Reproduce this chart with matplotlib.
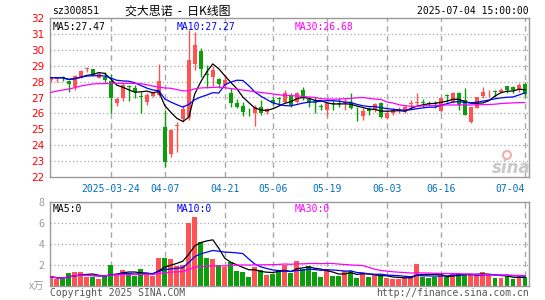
import numpy as np
import pandas as pd
import matplotlib
matplotlib.use("Agg")
import matplotlib.pyplot as plt
from matplotlib.patches import Ellipse

# daily bars 2025-03-10 .. 2025-07-04 (80 trading days)
opens = [28.08, 28.15, 28.25, 28.04, 27.68, 28.31, 28.82, 28.79, 28.25, 28.27,
         28.05, 26.63, 27.00, 27.70, 27.62, 27.08, 26.70, 27.11, 27.16, 25.16,
         23.42, 25.20, 25.64, 25.79, 29.10, 29.93, 28.45, 28.31, 28.14, 27.80,
         27.31, 26.68, 26.47, 26.09, 26.05, 26.43, 26.07, 26.85, 27.00, 26.74,
         27.10, 26.74, 27.48, 26.89, 26.74, 26.45, 26.22, 26.66, 26.66, 26.66,
         26.64, 26.09, 25.86, 26.26, 26.22, 26.64, 25.68, 26.01, 26.20, 26.11,
         26.62, 26.64, 26.70, 26.68, 26.68, 26.17, 27.12, 26.74, 27.27, 26.85,
         25.48, 26.32, 27.10, 27.20, 27.40, 27.37, 27.73, 27.69, 27.52, 27.83]
highs = [28.30, 28.30, 28.35, 28.10, 28.40, 28.75, 28.90, 28.80, 28.60, 28.62,
         28.45, 27.00, 27.90, 27.79, 27.79, 27.37, 27.26, 27.30, 29.09, 26.20,
         24.99, 25.47, 26.53, 31.25, 31.10, 30.10, 29.05, 28.95, 28.25, 28.40,
         27.58, 26.89, 26.74, 26.33, 26.53, 26.85, 26.36, 27.06, 27.06, 27.50,
         27.27, 27.37, 27.69, 26.95, 27.06, 26.58, 26.74, 26.85, 26.95, 26.95,
         27.27, 26.43, 26.32, 26.43, 26.68, 26.74, 26.22, 26.32, 26.43, 26.53,
         26.85, 27.27, 26.89, 26.79, 26.79, 27.00, 27.22, 27.37, 27.37, 27.58,
         26.43, 27.06, 27.69, 27.48, 27.48, 27.58, 27.73, 27.73, 27.94, 28.00]
lows = [28.00, 28.00, 28.05, 27.37, 27.47, 28.25, 28.62, 28.40, 28.20, 27.90,
        26.00, 26.46, 26.75, 26.78, 26.99, 26.00, 26.53, 27.05, 27.10, 22.64,
        23.27, 23.58, 25.47, 25.60, 28.73, 28.30, 27.58, 27.70, 27.58, 27.60,
        26.43, 26.32, 25.84, 25.84, 25.23, 25.90, 25.97, 26.53, 26.53, 26.64,
        26.43, 26.64, 26.85, 26.43, 26.01, 26.22, 25.84, 26.22, 26.43, 26.22,
        26.27, 25.52, 25.59, 25.90, 26.11, 25.70, 25.63, 25.90, 26.01, 26.05,
        26.32, 26.53, 26.43, 26.53, 26.37, 26.06, 26.74, 26.64, 26.22, 25.90,
        25.38, 26.32, 26.95, 27.06, 27.06, 27.27, 27.27, 27.27, 27.37, 27.06]
closes = [28.25, 28.25, 28.22, 27.83, 28.37, 28.69, 28.85, 28.46, 28.46, 28.12,
          26.95, 26.90, 27.80, 27.65, 27.37, 27.05, 27.16, 27.26, 28.04, 22.95,
          24.95, 25.26, 26.27, 29.36, 30.30, 28.77, 28.40, 28.73, 27.83, 28.10,
          26.68, 26.43, 26.11, 26.06, 26.43, 26.05, 26.28, 26.64, 26.90, 27.31,
          26.53, 27.27, 27.01, 26.64, 26.64, 26.43, 26.64, 26.62, 26.62, 26.70,
          26.32, 26.06, 26.15, 26.15, 26.57, 25.80, 26.03, 26.22, 26.24, 26.43,
          26.66, 26.70, 26.66, 26.58, 26.58, 26.95, 27.08, 27.27, 26.53, 25.90,
          26.43, 27.06, 27.37, 27.24, 27.36, 27.50, 27.50, 27.45, 27.79, 27.20]
# MA30 (needs history before the window)
ma30 = [27.32, 27.40, 27.47, 27.53, 27.62, 27.72, 27.79, 27.85, 27.87, 27.87,
        27.88, 27.89, 27.89, 27.89, 27.88, 27.87, 27.80, 27.72, 27.65, 27.60,
        27.58, 27.50, 27.42, 27.42, 27.55, 27.60, 27.62, 27.63, 27.65, 27.62,
        27.56, 27.52, 27.47, 27.42, 27.36, 27.32, 27.27, 27.22, 27.17, 27.13,
        27.12, 27.10, 27.07, 27.03, 27.00, 26.93, 26.90, 26.90, 26.90, 26.92,
        26.95, 26.98, 27.00, 26.95, 26.90, 26.88, 26.72, 26.65, 26.55, 26.48,
        26.45, 26.45, 26.47, 26.48, 26.50, 26.52, 26.53, 26.53, 26.53, 26.53,
        26.53, 26.54, 26.55, 26.56, 26.58, 26.62, 26.64, 26.66, 26.68, 26.68]
# volume, 10k lots
volumes = [0.89, 0.67, 0.67, 1.24, 1.37, 1.37, 0.86, 0.86, 0.67, 0.95,
           2.00, 1.14, 1.52, 1.05, 0.95, 1.62, 1.05, 0.95, 2.67, 2.67,
           2.57, 1.90, 2.00, 6.03, 6.60, 4.16, 2.67, 2.54, 2.00, 1.81,
           2.29, 1.43, 1.33, 0.86, 1.81, 1.52, 1.05, 1.17, 1.43, 2.00,
           1.24, 2.35, 1.62, 1.90, 1.33, 0.86, 1.59, 0.95, 0.95, 1.43,
           1.43, 0.76, 1.27, 0.86, 1.05, 0.95, 0.76, 0.67, 0.67, 0.86,
           0.95, 2.10, 0.86, 0.76, 0.86, 1.05, 0.86, 1.24, 1.14, 1.14,
           1.05, 1.05, 1.33, 1.05, 0.76, 0.76, 0.95, 0.67, 0.95, 0.83]

date_pos = [10, 19, 29, 37, 46, 56, 65, 79]
date_labels = ["2025-03-24", "04-07", "04-21", "05-06", "05-19", "06-03", "06-16", "07-04"]
price_ticks = list(range(22, 33))
vol_ticks = [2, 4, 6, 8]

RED = "#ff5252"
GREEN = "#0a9e0a"
GRID = "#a8a8a8"
mono = "DejaVu Sans Mono"

o = np.array(opens); h = np.array(highs); l = np.array(lows); c = np.array(closes)
v = np.array(volumes)
x = np.arange(len(c))
up = c >= o
cols = np.where(up, RED, GREEN)

cs = pd.Series(c)
ma5 = cs.rolling(5, min_periods=1).mean()
ma10 = cs.rolling(10, min_periods=1).mean()
vs = pd.Series(v)
vma5 = vs.rolling(5, min_periods=1).mean()
vma10 = vs.rolling(10, min_periods=1).mean()
vma30 = vs.rolling(30, min_periods=1).mean()

fig = plt.figure(figsize=(5.45, 3.0), dpi=100)
fig.patch.set_facecolor("white")
ax = fig.add_axes([50/545, 1-177/300, 479/545, 159/300])
axv = fig.add_axes([50/545, 1-286/300, 479/545, 84/300])

xlim = (-0.12, 79.67)

# price panel
for yv in price_ticks[1:-1]:
    ax.axhline(yv, color=GRID, ls=(0, (1, 2)), lw=0.9, zorder=0)
for p in date_pos:
    ax.axvline(p, color=GRID, ls=(0, (4, 3)), lw=1, zorder=0)
ax.vlines(x, l, h, colors=cols, lw=1, zorder=2)
body = np.maximum(np.abs(c - o), 0.05)
ax.bar(x, body, bottom=np.minimum(o, c), width=0.7, color=cols, lw=0, zorder=3)
ax.plot(x, ma5, color="black", lw=0.9, zorder=4)
ax.plot(x, ma10, color="#0000ff", lw=0.9, zorder=4)
ax.plot(x, ma30, color="#ff00ff", lw=0.9, zorder=4)
ax.set_xlim(*xlim)
ax.set_ylim(22, 32)
ax.set_yticks(price_ticks)
ax.set_yticklabels([str(t) for t in price_ticks], color="red", fontsize=7.5)
ax.set_xticks(date_pos)
ax.set_xticklabels(date_labels, color="#0070c0", fontsize=7, family=mono)
ax.get_xticklabels()[-1].set_ha("right")
ax.tick_params(length=0, pad=4)
ax.tick_params(axis="x", pad=5)
ax.text(0.3, 31.75, "MA5:27.47", color="black", fontsize=7, family=mono, va="top")
ax.text(20.9, 31.75, "MA10:27.27", color="#0000ff", fontsize=7, family=mono, va="top")
ax.text(40.7, 31.75, "MA30:26.68", color="#ff00ff", fontsize=7, family=mono, va="top")

# volume panel
for yv in [2, 4, 6]:
    axv.axhline(yv, color=GRID, ls=(0, (1, 2)), lw=0.9, zorder=0)
for p in date_pos:
    axv.axvline(p, color=GRID, ls=(0, (4, 3)), lw=1, zorder=0)
axv.bar(x, v, width=0.82, color=cols, lw=0, zorder=2)
axv.plot(x, vma5, color="black", lw=0.9, zorder=3)
axv.plot(x, vma10, color="#0000ff", lw=0.9, zorder=3)
axv.plot(x, vma30, color="#ff00ff", lw=0.9, zorder=3)
axv.set_xlim(*xlim)
axv.set_ylim(0, 8)
axv.set_yticks([0] + vol_ticks)
axv.set_yticklabels(["x万"] + [str(t) for t in vol_ticks], color="#999999", fontsize=7.5,
                    family=["Noto Sans CJK SC", "DejaVu Sans"])
axv.set_xticks([])
axv.tick_params(length=0, pad=4)
axv.text(0.3, 7.85, "MA5:0", color="black", fontsize=7, family=mono, va="top")
axv.text(20.9, 7.85, "MA10:0", color="#0000ff", fontsize=7, family=mono, va="top")
axv.text(40.7, 7.85, "MA30:0", color="#ff00ff", fontsize=7, family=mono, va="top")

for a in (ax, axv):
    for s in a.spines.values():
        s.set_color("#999999")
        s.set_linewidth(1)

# header / footer
fig.text(52/545, 1-11/300, "sz300851", fontsize=7, family=mono, va="center")
fig.text(178/545, 1-11/300, "交大思诺  -  日K线图", fontsize=8.6, va="center", ha="center",
         family=["Noto Sans CJK SC", "DejaVu Sans"])
fig.text(529/545, 1-11/300, "2025-07-04 15:00:00", fontsize=7, family=mono,
         va="center", ha="right")
fig.text(50/545, 1-293/300, "Copyright 2025 SINA.COM", fontsize=7, family=mono,
         va="center", color="#555555")
fig.text(529/545, 1-293/300, "http://finance.sina.com.cn", fontsize=7, family=mono,
         va="center", ha="right", color="#555555")
fig.text(511/545, 1-168/300, "sina", fontsize=12, style="italic", weight="bold",
         color="#c8c8c8", ha="center", va="center")
fig.add_artist(Ellipse((507/545, 1-155/300), 8/545, 8/300, transform=fig.transFigure,
                       facecolor="none", edgecolor="#f0b0b0", lw=1.5))

fig.savefig("out.png", dpi=100)
